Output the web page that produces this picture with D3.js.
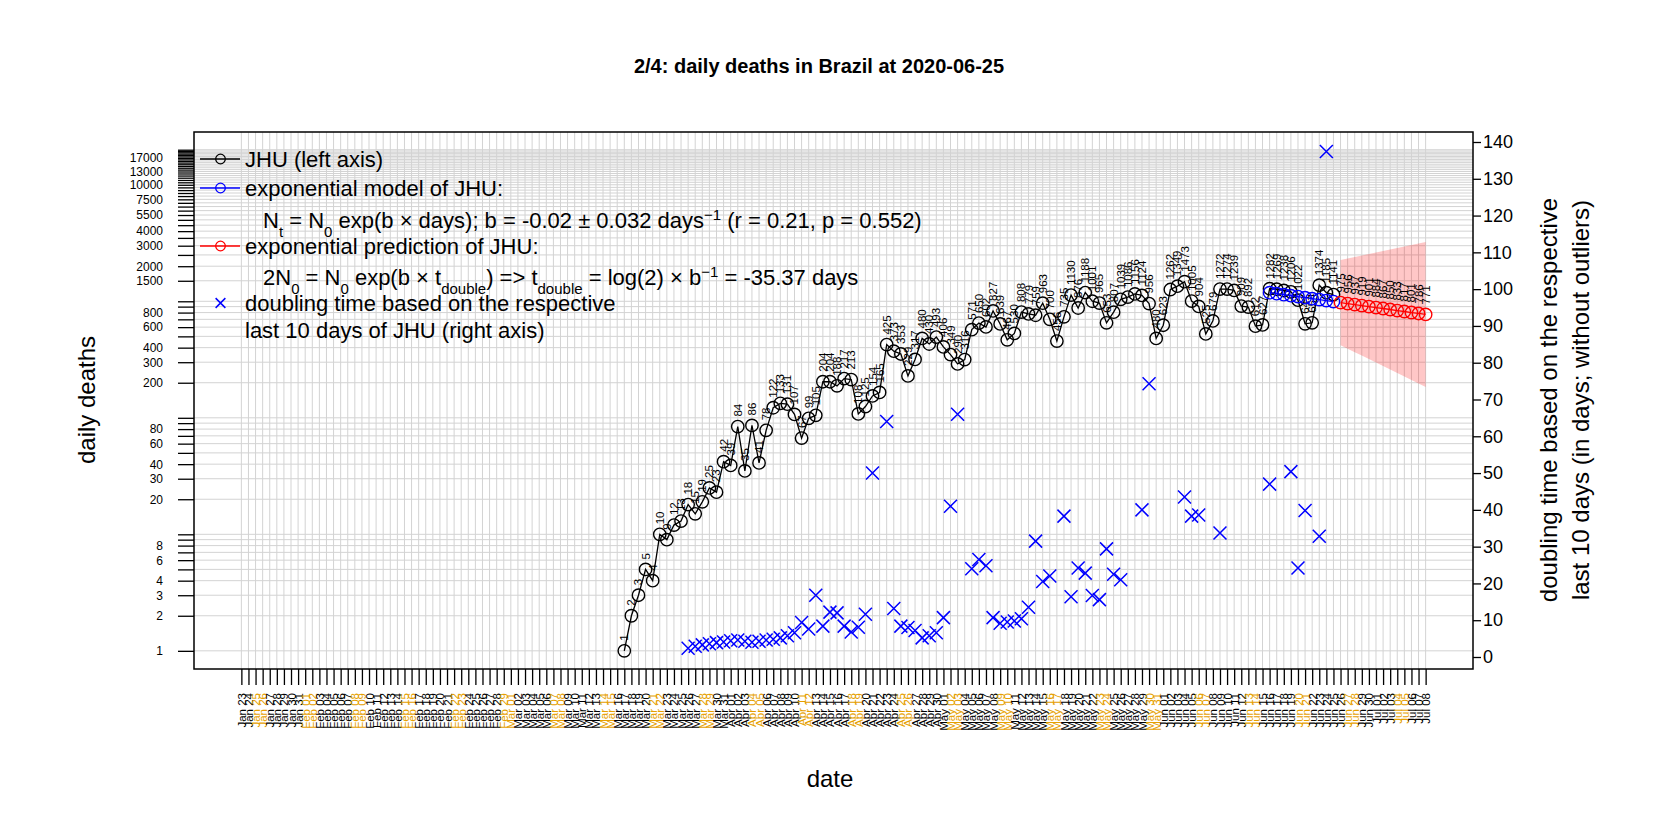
<!DOCTYPE html>
<html>
<head>
<meta charset="utf-8">
<script src="https://d3js.org/d3.v7.min.js"></script>
<style>
    body { margin: 0; background: #fff; }
    svg { display: block; font-family: "Liberation Sans", Arial, Helvetica, sans-serif; }
</style>
</head>
<body>
<svg id="chart" width="1666" height="833"></svg>
<script>
// JHU daily deaths for Brazil, 2020-03-17 .. 2020-06-25
const firstDay = '2020-03-17';
const deaths = [
    1, 2, 3, 5, 4, 10, 9, 12, 13, 18, 15, 19, 25, 23, 42,
    39, 84, 35, 86, 41, 78, 122, 133, 131, 107, 67, 99, 105, 204, 204,
    188, 217, 213, 108, 125, 154, 165, 425, 373, 353, 229, 317, 480, 430, 493,
    406, 349, 290, 316, 571, 650, 602, 827, 639, 467, 530, 808, 779, 759, 963,
    700, 456, 735, 1130, 876, 1188, 1001, 965, 653, 807, 1039, 1086, 1156, 1124, 956, 480,
    623, 1262, 1349, 1473, 1005, 904, 525, 679, 1272, 1274, 1239, 909, 892, 612, 627,
    1282, 1269, 1238, 1206, 1022, 641, 654, 1374, 1185, 1141
];

// exponential model over the last 10 days (blue)
const fitStart = '2020-06-16';
const fitValues = [1186, 1163, 1140, 1118, 1097, 1075, 1054, 1034, 1014, 994];

// exponential prediction (red) with its band
const predStart = '2020-06-26';
const predValues = [975, 956, 937, 919, 901, 884, 867, 850, 833, 817, 801, 786, 771];
const predHigh = [2262, 2330, 2400, 2472, 2547, 2623, 2702, 2784, 2867, 2954, 3042, 3134, 3228];
const predLow = [420, 392, 366, 342, 319, 298, 278, 260, 242, 226, 211, 197, 184];

// doubling time (days) of the respective last 10 days, right axis
const dblStart = '2020-03-26';
const doublingDays = [
    2.4, 2.9, 3.3, 3.6, 3.9, 4.1,
    4.4, 4.6, 4.3, 4.0, 4.3, 4.6, 4.8, 5.2, 5.8, 6.6,
    9.4, 7.6, 16.8, 8.4, 12.2, 12.0, 8.4, 6.8, 8.1, 11.6,
    50.0, null, 64.0, 13.2, 8.4, 8.0, 7.2, 5.2, 5.8, 6.6,
    10.7, 41.0, 66.0, null, 24.0, 26.5, 24.8, 10.7, 9.2, 9.5,
    9.8, 10.4, 13.5, 31.5, 20.5, 22.0, null, 38.3, 16.4, 24.2,
    22.8, 16.7, 15.6, 29.4, 22.5, 21.0, null, null, 40.0, 74.3, null,
    null, null, null, 43.5, 38.3, 38.6, null, null, 33.7, null,
    null, null, null, null, null, 47.0, null, null, 50.4, 24.2,
    39.8, null, 32.8, 137.4, null
];

// axes
const axisStart = '2020-01-23';
const axisEnd = '2020-07-08';
const leftTicks = [1, 2, 3, 4, 5, 6, 7, 8, 9, 10,
    20, 30, 40, 50, 60, 70, 80, 90, 100,
    200, 300, 400, 500, 600, 700, 800, 900, 1000,
    1500, 2000, 2500, 3000, 3500, 4000, 4500, 5000, 5500, 6000, 6500, 7000, 7500, 8000,
    8500, 9000, 9500, 10000, 10500, 11000, 11500, 12000, 12500, 13000, 13500, 14000,
    14500, 15000, 15500, 16000, 16500, 17000, 17500, 18000, 18500, 19000, 19500, 20000];
const leftLabels = [1, 2, 3, 4, 6, 8, 20, 30, 40, 60, 80, 200, 300, 400, 600, 800,
    1500, 2000, 3000, 4000, 5500, 7500, 10000, 13000, 17000];
const rightTicks = [0, 10, 20, 30, 40, 50, 60, 70, 80, 90, 100, 110, 120, 130, 140];

const plot = {left: 194, right: 1473, top: 132, bottom: 669};
const font = '"Liberation Sans", Arial, Helvetica, sans-serif';

const parse = d3.utcParse('%Y-%m-%d');
const day0 = parse(axisStart), dayN = parse(axisEnd);
const days = d3.utcDay.range(day0, d3.utcDay.offset(dayN, 1));
const pad = 6.68 * 864e5;
const at = (start, i) => d3.utcDay.offset(parse(start), i);

const x = d3.scaleUtc().domain([new Date(+day0 - pad), new Date(+dayN + pad)]).range([plot.left, plot.right]);
const yL = d3.scaleLog().domain([Math.pow(10, -0.156), Math.pow(10, 4.453)]).range([plot.bottom, plot.top]);
const yR = d3.scaleLinear().domain([0, 140]).range([657, 142]);

const svg = d3.select('#chart');

// grid
const grid = svg.append('g').attr('class', 'grid').attr('stroke', '#d3d3d3').attr('stroke-width', 1);
grid.selectAll('line.v').data(days).join('line').attr('class', 'v')
    .attr('x1', d => x(d)).attr('x2', d => x(d))
    .attr('y1', plot.top).attr('y2', plot.bottom);
grid.selectAll('line.h').data(leftTicks).join('line').attr('class', 'h')
    .attr('x1', plot.left).attr('x2', plot.right)
    .attr('y1', d => yL(d)).attr('y2', d => yL(d));

// prediction band
const band = predValues.map((v, i) => ({d: at(predStart, i), lo: predLow[i], hi: predHigh[i]}));
svg.append('path').datum(band)
    .attr('fill', 'rgba(255,0,0,0.22)')
    .attr('d', d3.area().x(d => x(d.d)).y0(d => yL(d.lo)).y1(d => yL(d.hi)));

function drawSeries(values, start, color, labels) {
    const pts = values.map((v, i) => ({d: at(start, i), v: v}));
    const g = svg.append('g');
    g.append('path').datum(pts)
        .attr('fill', 'none').attr('stroke', color).attr('stroke-width', 1.3)
        .attr('d', d3.line().x(p => x(p.d)).y(p => yL(p.v)));
    g.selectAll('circle').data(pts).join('circle')
        .attr('cx', p => x(p.d)).attr('cy', p => yL(p.v)).attr('r', 6.2)
        .attr('fill', 'none').attr('stroke', color).attr('stroke-width', 1.4);
    if (labels) {
        g.selectAll('text').data(pts).join('text')
            .attr('transform', p => `translate(${x(p.d) + 4},${yL(p.v) - 10}) rotate(-90)`)
            .attr('font-size', 11.5).attr('fill', '#000')
            .text(p => Math.round(p.v));
    }
}
drawSeries(deaths, firstDay, '#000', true);
drawSeries(fitValues, fitStart, '#0000ff', false);
drawSeries(predValues, predStart, '#ff0000', true);

// doubling times (crosses)
const dbl = doublingDays.map((v, i) => ({d: at(dblStart, i), v: v})).filter(p => p.v !== null);
const cross = 'M-6.5,-6.5L6.5,6.5M-6.5,6.5L6.5,-6.5';
svg.append('g').selectAll('path').data(dbl).join('path')
    .attr('transform', p => `translate(${x(p.d)},${yR(p.v)})`)
    .attr('d', cross).attr('fill', 'none').attr('stroke', '#0000ff').attr('stroke-width', 1.5);

// left axis
const axL = svg.append('g').attr('transform', `translate(${plot.left},0)`)
    .call(d3.axisLeft(yL).tickValues(leftTicks).tickSize(16).tickPadding(15)
        .tickFormat(v => leftLabels.includes(v) ? String(v) : ''));
axL.select('.domain').remove();
axL.attr('font-family', font).attr('font-size', 12);
axL.selectAll('line').attr('stroke', '#000').attr('stroke-width', 1.3);
axL.selectAll('text').attr('fill', '#000');

// bottom axis (every day, weekends orange)
const fmt = d3.utcFormat('%b %d');
const axB = svg.append('g').attr('transform', `translate(0,${plot.bottom})`)
    .call(d3.axisBottom(x).tickValues(days).tickSize(16).tickFormat(fmt));
axB.select('.domain').remove();
axB.attr('font-family', font).attr('font-size', 11.5);
axB.selectAll('line').attr('stroke', '#000').attr('stroke-width', 1.3);
axB.selectAll('text')
    .attr('transform', 'rotate(-90)')
    .attr('text-anchor', 'end')
    .attr('x', -24).attr('y', 0).attr('dy', '0.35em')
    .attr('fill', d => (d.getUTCDay() === 0 || d.getUTCDay() === 6) ? '#e69f00' : '#000');

// right axis
const axR = svg.append('g').attr('transform', `translate(${plot.right},0)`)
    .call(d3.axisRight(yR).tickValues(rightTicks).tickSize(8).tickPadding(2));
axR.select('.domain').remove();
axR.attr('font-family', font).attr('font-size', 18);
axR.selectAll('line').attr('stroke', '#000').attr('stroke-width', 1.3);
axR.selectAll('text').attr('fill', '#000');

// box
svg.append('rect')
    .attr('x', plot.left).attr('y', plot.top)
    .attr('width', plot.right - plot.left).attr('height', plot.bottom - plot.top)
    .attr('fill', 'none').attr('stroke', '#000').attr('stroke-width', 1.5);

// titles
svg.append('text').attr('x', 819).attr('y', 73).attr('text-anchor', 'middle')
    .attr('font-size', 20).attr('font-weight', 'bold')
    .text('2/4: daily deaths in Brazil at 2020-06-25');
svg.append('text').attr('x', 830).attr('y', 787).attr('text-anchor', 'middle')
    .attr('font-size', 24).text('date');
svg.append('text').attr('transform', 'translate(95,400) rotate(-90)').attr('text-anchor', 'middle')
    .attr('font-size', 24).text('daily deaths');
svg.append('text').attr('transform', 'translate(1557,400) rotate(-90)').attr('text-anchor', 'middle')
    .attr('font-size', 24).text('doubling time based on the respective');
svg.append('text').attr('transform', 'translate(1589,400) rotate(-90)').attr('text-anchor', 'middle')
    .attr('font-size', 24).text('last 10 days (in days; without outliers)');

// legend
const lg = svg.append('g').attr('font-size', 22);
const legendRows = [
    {y: 159, color: '#000', mark: 'line'},
    {y: 188, color: '#0000ff', mark: 'line'},
    {y: 246, color: '#ff0000', mark: 'line'},
    {y: 303, color: '#0000ff', mark: 'cross'}
];
legendRows.forEach(r => {
    if (r.mark === 'line') {
        lg.append('line').attr('x1', 200).attr('x2', 240).attr('y1', r.y).attr('y2', r.y)
            .attr('stroke', r.color).attr('stroke-width', 1.3);
        lg.append('circle').attr('cx', 220.5).attr('cy', r.y).attr('r', 4.8)
            .attr('fill', 'none').attr('stroke', r.color).attr('stroke-width', 1.3);
    } else {
        lg.append('path').attr('transform', `translate(220.5,${r.y}) scale(0.75)`).attr('d', cross)
            .attr('fill', 'none').attr('stroke', r.color).attr('stroke-width', 2);
    }
});
function legendText(xp, yp, parts) {
    const t = lg.append('text').attr('x', xp).attr('y', yp).attr('dy', '0.35em');
    parts.forEach(p => {
        const s = t.append('tspan').text(p[0]);
        if (p[1] === 'sub') s.attr('baseline-shift', 'sub').attr('font-size', 15);
        if (p[1] === 'sup') s.attr('baseline-shift', 'super').attr('font-size', 15);
    });
}
legendText(245, 159, [['JHU (left axis)']]);
legendText(245, 188, [['exponential model of JHU:']]);
legendText(263, 220, [['N'], ['t', 'sub'], [' = N'], ['0', 'sub'],
    [' exp(b \u00d7 days); b = -0.02 \u00b1 0.032 days'], ['\u22121', 'sup'], [' (r = 0.21, p = 0.552)']]);
legendText(245, 246, [['exponential prediction of JHU:']]);
legendText(263, 277, [['2N'], ['0', 'sub'], [' = N'], ['0', 'sub'], [' exp(b \u00d7 t'], ['double', 'sub'],
    [') => t'], ['double', 'sub'], [' = log(2) \u00d7 b'], ['\u22121', 'sup'], [' = -35.37 days']]);
legendText(245, 303, [['doubling time based on the respective']]);
legendText(245, 330, [['last 10 days of JHU (right axis)']]);
</script>
</body>
</html>
